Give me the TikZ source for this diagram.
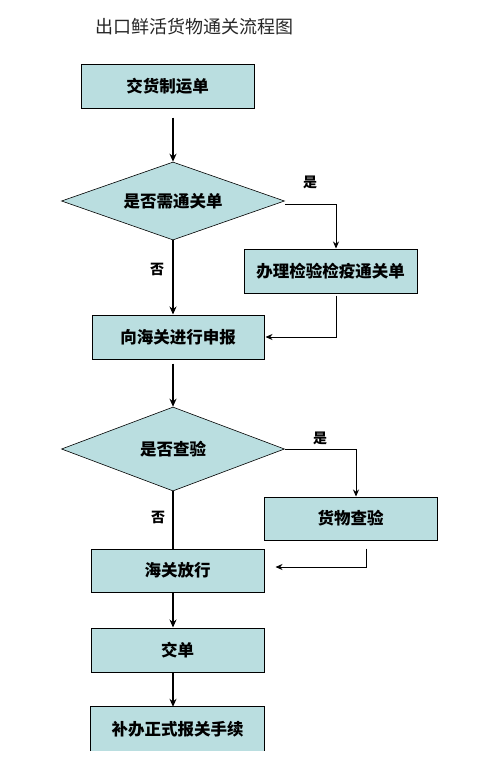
\documentclass[tikz,border=0pt]{standalone}
\usepackage{fontspec}
\newfontfamily\cjk{Noto Sans CJK SC}
\usetikzlibrary{shapes.geometric,arrows.meta,calc}
\definecolor{boxfill}{RGB}{186,222,224}
\begin{document}
\begin{tikzpicture}[x=1pt,y=-1pt,
  box/.style={draw=black,line width=1pt,fill=boxfill,minimum width=173pt,minimum height=44pt,inner sep=0pt,font=\cjk\bfseries\fontsize{16.5}{18}\selectfont},
  dia/.style={diamond,draw=black,line width=0.6pt,fill=boxfill,minimum width=223pt,minimum height=80pt,aspect=2.8,inner sep=0pt,font=\cjk\bfseries\fontsize{16.5}{18}\selectfont},
  main/.style={line width=1.6pt,-{Stealth[length=8pt,width=7pt]}},
  plain/.style={line width=1.6pt},
  side/.style={line width=0.8pt,-{Stealth[length=7pt,width=6pt]}},
  lab/.style={font=\cjk\bfseries\fontsize{14}{16}\selectfont,inner sep=0pt}]
\useasboundingbox[fill=white] (0,0) rectangle (479,774);
\node[anchor=west,font=\cjk\fontsize{18}{20}\selectfont,text=black!85] (title) at (92,27) {出口鲜活货物通关流程图};

\node[box] (b1) at (167.5,86) {交货制运单};
\node[dia,minimum width=223pt,minimum height=78pt] (d1) at (173,201) {是否需通关单};
\node[box] (b2) at (330.5,271) {办理检验检疫通关单};
\node[box,minimum width=172pt] (b3) at (178,337) {向海关进行申报};
\node[dia,minimum width=223pt,minimum height=84pt] (d2) at (173,449) {是否查验};
\node[box,minimum height=43pt] (b4) at (350.5,518.5) {货物查验};
\node[box,minimum height=43pt] (b5) at (177.5,570.5) {海关放行};
\node[box] (b6) at (177.5,650) {交单};
\fill[boxfill] (91,707) rectangle (264,751);
\node[minimum width=173pt,minimum height=44pt,inner sep=0pt,font=\cjk\bfseries\fontsize{16.5}{18}\selectfont] (b7) at (177.5,729) {补办正式报关手续};
\draw[line width=1pt] (b7.south west) |- (b7.north east) -- (b7.south east);

\node[lab] (y1) at (310,182) {是};
\node[lab] (n1) at (157,269) {否};
\node[lab] (y2) at (320,438) {是};
\node[lab] (n2) at (158,517) {否};

\draw[main] ([yshift=-9pt]b1.south -| d1.north) -- (d1.north);
\draw[main] (d1.south) -- (b3.north -| d1.south);
\draw[side,line width=0.8pt] ([yshift=-3pt]d1.east) -| ([xshift=5.5pt]b2.north);
\draw[side] ([xshift=5.5pt,yshift=-2pt]b2.south) |- ([xshift=1pt]b3.east);
\draw[main] ([yshift=-4pt]b3.south -| d2.north) -- (d2.north);
\draw[plain] (d2.south) -- (b5.north -| d2.south);
\draw[side] (d2.east) -| ([xshift=5.5pt]b4.north);
\draw[side] ([xshift=15.5pt,yshift=-8pt]b4.south) |- ([xshift=11pt,yshift=3.5pt]b5.east);
\draw[main] (b5.south -| d2.south) -- (b6.north -| d2.south);
\draw[main] (b6.south -| d2.south) -- (b7.north -| d2.south);
\end{tikzpicture}
\end{document}
